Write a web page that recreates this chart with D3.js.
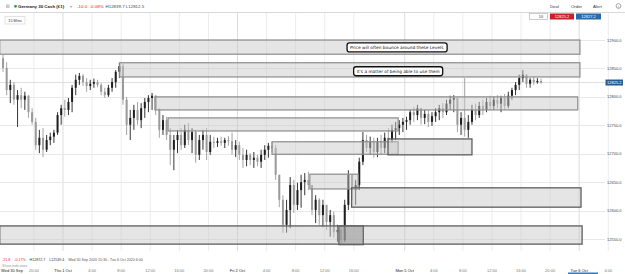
<!DOCTYPE html>
<html>
<head>
<meta charset="utf-8">
<script src="https://d3js.org/d3.v7.min.js"></script>
<style>
body { margin: 0; background: #fff; overflow: hidden; }
text { font-family: "Liberation Sans", Arial, sans-serif; }
</style>
</head>
<body>
<script>
var width = 625,
  height = 274;

// Germany 30 Cash, 30 min bars [open, high, low, close], Wed 30 Sep 15:30 -> Mon 5 Oct 18:30
var candles = [
  [12868,12874,12844,12851],[12851,12861,12803,12812],[12812,12830,12789,12821],[12821,12826,12786,12795],[12795,12812,12747,12803],
  [12803,12816,12780,12795],[12795,12809,12777,12802],[12802,12803,12763,12773],[12773,12780,12751,12756],[12756,12763,12707,12715],
  [12715,12742,12701,12728],[12728,12745,12694,12707],[12707,12733,12703,12724],[12724,12737,12715,12730],[12730,12742,12719,12737],
  [12737,12773,12733,12768],[12768,12786,12751,12780],[12780,12795,12765,12777],[12777,12798,12768,12791],[12791,12821,12773,12816],
  [12816,12839,12803,12830],[12830,12842,12821,12837],[12837,12840,12819,12826],[12826,12833,12809,12819],[12819,12830,12812,12823],
  [12823,12832,12816,12826],[12826,12830,12817,12821],[12821,12824,12803,12809],[12809,12816,12798,12803],[12803,12821,12800,12816],
  [12816,12833,12809,12826],[12826,12847,12816,12844],[12844,12860,12833,12854],[12854,12858,12786,12795],[12795,12800,12733,12751],
  [12751,12777,12724,12763],[12763,12786,12742,12777],[12777,12791,12751,12759],[12759,12789,12745,12780],[12780,12798,12763,12791],
  [12791,12803,12773,12798],[12798,12807,12777,12802],[12802,12803,12768,12777],[12777,12780,12728,12742],[12742,12768,12733,12759],
  [12759,12765,12724,12733],[12733,12745,12680,12707],[12707,12733,12671,12724],[12724,12742,12701,12733],[12733,12745,12707,12715],
  [12715,12751,12710,12742],[12742,12754,12715,12724],[12724,12745,12701,12738],[12738,12742,12684,12698],[12698,12733,12689,12724],
  [12724,12742,12707,12733],[12733,12745,12689,12703],[12703,12733,12698,12721],[12721,12730,12710,12719],[12719,12728,12712,12722],
  [12722,12730,12714,12719],[12719,12728,12710,12724],[12724,12731,12714,12722],[12722,12737,12698,12707],[12707,12724,12694,12715],
  [12715,12721,12689,12698],[12698,12710,12675,12689],[12689,12707,12678,12698],[12698,12701,12680,12689],[12689,12703,12675,12693],
  [12693,12698,12678,12686],[12686,12707,12675,12698],[12698,12715,12689,12707],[12707,12719,12693,12714],[12714,12721,12703,12710],
  [12710,12715,12654,12663],[12663,12663,12606,12619],[12619,12627,12561,12575],[12575,12619,12561,12601],[12601,12659,12569,12645],
  [12645,12654,12596,12610],[12610,12649,12601,12636],[12636,12663,12605,12650],[12650,12666,12627,12654],[12654,12668,12636,12645],
  [12645,12645,12592,12601],[12601,12627,12578,12619],[12619,12622,12575,12592],[12592,12619,12571,12610],[12610,12610,12566,12580],
  [12580,12601,12554,12592],[12592,12598,12552,12562],[12562,12575,12545,12566],[12566,12573,12540,12548],[12548,12619,12545,12610],
  [12610,12671,12601,12663],[12663,12663,12619,12636],[12636,12654,12610,12645],[12645,12693,12636,12686],[12686,12738,12680,12724],
  [12724,12733,12703,12710],[12710,12730,12698,12721],[12721,12728,12693,12703],[12703,12728,12694,12721],[12721,12733,12698,12710],
  [12710,12737,12701,12728],[12728,12745,12707,12724],[12724,12751,12719,12742],[12742,12756,12724,12745],[12745,12759,12733,12751],
  [12751,12763,12738,12756],[12756,12765,12742,12759],[12759,12777,12751,12773],[12773,12782,12756,12768],[12768,12786,12759,12780],
  [12780,12780,12751,12763],[12763,12777,12752,12770],[12770,12777,12747,12756],[12756,12773,12749,12766],[12766,12780,12756,12773],
  [12773,12786,12759,12780],[12780,12789,12763,12773],[12773,12795,12768,12788],[12788,12802,12777,12795],[12795,12803,12773,12798],
  [12798,12798,12738,12751],[12751,12773,12733,12763],[12763,12833,12730,12742],[12742,12768,12728,12756],[12756,12786,12751,12777],
  [12777,12788,12759,12768],[12768,12791,12763,12784],[12784,12795,12768,12777],[12777,12798,12773,12791],[12791,12802,12777,12784],
  [12784,12800,12777,12795],[12795,12803,12780,12788],[12788,12802,12773,12798],[12798,12805,12777,12784],[12784,12809,12780,12802],
  [12802,12816,12795,12812],[12812,12826,12803,12821],[12821,12839,12812,12833],[12833,12847,12826,12839],[12839,12840,12816,12823],
  [12823,12833,12816,12830],[12830,12835,12821,12826],[12826,12833,12823,12828],[12828,12832,12823,12825.2]
];
var firstBarHour = -8.5; // trading hours from Thu 1 Oct 0:00 (weekend removed)
var barHours = 0.5;

// support / resistance zones: [from hour, to hour, top price, bottom price]
var zones = [
  [-8.7, 71.1, 12900, 12875],
  [7.8, 71.1, 12860, 12835],
  [12.65, 70.8, 12800, 12777],
  [14.45, 46.1, 12763, 12740],
  [28.75, 46.1, 12721, 12699],
  [44.7, 56.25, 12726, 12698],
  [33.95, 40.6, 12664, 12638],
  [39.7, 71.25, 12640, 12606],
  [-8.7, 71.4, 12573, 12541],
  [37.95, 41.3, 12573, 12540]
];
var darkZones = [5, 7, 8];
var shadedZone = 9;

var priceTicks = [12550, 12600, 12650, 12700, 12750, 12800, 12850, 12900];
var timeTicks = [-4, 0, 4, 8, 12, 16, 20, 24, 28, 32, 36, 40, 47, 51, 55, 59, 63, 67, 71, 75];
var timeLabels = ["20:00", "Thu 1 Oct", "4:00", "8:00", "12:00", "16:00", "20:00", "Fri 2 Oct", "4:00", "8:00",
  "12:00", "16:00", "Mon 5 Oct", "4:00", "8:00", "12:00", "16:00", "20:00", "Tue 6 Oct", "4:00"];
var notes = ["Price will often bounce around these Levels", "It's a matter of being able to use them"];
var bid = 12825.2, ask = 12827.2;

var svg = d3
  .select("body")
  .append("svg")
  .attr("width", width)
  .attr("height", height)
  .style("display", "block")
  .style("background", "#fff");

var x = d3.scaleLinear().domain([0, 71]).range([63, 579.2]);
var y = d3.scaleLinear().domain([12550, 12900]).range([239, 40]);

var plotTop = 13, plotBottom = 251, plotRight = 605;

/*
* grid
*/
svg.append("g")
  .selectAll("line")
  .data(timeTicks)
  .enter()
  .append("line")
  .attr("x1", function (d) { return x(d); })
  .attr("x2", function (d) { return x(d); })
  .attr("y1", plotTop)
  .attr("y2", plotBottom)
  .attr("stroke", function (d, i) { return timeLabels[i].indexOf(":") < 0 ? "#dcdcdc" : "#ececec"; })
  .attr("stroke-width", 1);

svg.append("g")
  .selectAll("line")
  .data(priceTicks)
  .enter()
  .append("line")
  .attr("x1", 0)
  .attr("x2", plotRight)
  .attr("y1", function (d) { return Math.round(y(d)) + 0.5; })
  .attr("y2", function (d) { return Math.round(y(d)) + 0.5; })
  .attr("stroke", "#e8e8e8");

// last price line
svg.append("line")
  .attr("x1", 0).attr("x2", plotRight)
  .attr("y1", y(bid)).attr("y2", y(bid))
  .attr("stroke", "#d5d5d5").attr("stroke-width", 0.8);

/*
* candles
*/
function barX(i) {
  return x(firstBarHour + barHours * i + barHours / 2);
}
var bars = svg.append("g")
  .selectAll("g")
  .data(candles)
  .enter()
  .append("g");
bars.append("line")
  .attr("x1", function (d, i) { return barX(i); })
  .attr("x2", function (d, i) { return barX(i); })
  .attr("y1", function (d) { return y(d[1]); })
  .attr("y2", function (d) { return y(d[2]); })
  .attr("stroke", function (d) { return d[3] >= d[0] ? "#1e1e1e" : "#9a9a9a"; })
  .attr("stroke-width", 0.9);
bars.append("rect")
  .attr("x", function (d, i) { return barX(i) - 1; })
  .attr("width", 2)
  .attr("y", function (d) { return y(Math.max(d[0], d[3])); })
  .attr("height", function (d) { return Math.max(0.8, Math.abs(y(d[0]) - y(d[3]))); })
  .attr("fill", function (d) { return d[3] >= d[0] ? "#1e1e1e" : "#9a9a9a"; });

/*
* zones
*/
svg.append("g")
  .selectAll("rect")
  .data(zones)
  .enter()
  .append("rect")
  .attr("x", function (d) { return x(d[0]); })
  .attr("y", function (d) { return y(d[2]); })
  .attr("width", function (d) { return x(d[1]) - x(d[0]); })
  .attr("height", function (d) { return y(d[3]) - y(d[2]); })
  .attr("fill", function (d, i) { return i === shadedZone ? "rgba(140,140,140,0.5)" : "rgba(200,200,200,0.48)"; })
  .attr("stroke", function (d, i) { return darkZones.indexOf(i) >= 0 || i === shadedZone ? "#5e5e5e" : "#8c8c8c"; })
  .attr("stroke-width", function (d, i) { return darkZones.indexOf(i) >= 0 ? 1.3 : 1.2; });

/*
* notes
*/
var noteAnchors = [[45.9, 12887], [46.1, 12845]];
notes.forEach(function (t, i) {
  var g = svg.append("g");
  var txt = g.append("text")
    .attr("x", x(noteAnchors[i][0]))
    .attr("y", y(noteAnchors[i][1]))
    .attr("text-anchor", "middle")
    .attr("dominant-baseline", "central")
    .style("font-family", "'DejaVu Sans', sans-serif")
    .style("font-size", "4.3px")
    .style("fill", "#111")
    .text(t);
  var b = txt.node().getBBox();
  g.insert("rect", "text")
    .attr("x", b.x - 3).attr("y", b.y - 2)
    .attr("width", b.width + 6).attr("height", b.height + 4)
    .attr("rx", 2.5)
    .attr("fill", "#fff")
    .attr("stroke", "#111")
    .attr("stroke-width", 1.3);
});

/*
* price axis
*/
svg.append("g")
  .selectAll("text")
  .data(priceTicks)
  .enter()
  .append("text")
  .attr("x", 607)
  .attr("y", function (d) { return y(d); })
  .attr("dominant-baseline", "central")
  .style("font-size", "4px")
  .style("fill", "#444")
  .text(function (d) { return d3.format(".1f")(d); });

svg.append("rect")
  .attr("x", 605.5).attr("y", y(bid) - 3)
  .attr("width", 17.5).attr("height", 6)
  .attr("fill", "#2b5b8c");
svg.append("text")
  .attr("x", 607).attr("y", y(bid))
  .attr("dominant-baseline", "central")
  .style("font-size", "4px")
  .style("fill", "#fff")
  .text(d3.format(".1f")(bid));

/*
* time axis
*/
svg.append("g")
  .selectAll("text")
  .data(timeTicks)
  .enter()
  .append("text")
  .attr("x", function (d) { return x(d); })
  .attr("y", 272)
  .attr("text-anchor", "middle")
  .style("font-size", "4px")
  .style("fill", function (d, i) { return timeLabels[i].indexOf(":") < 0 ? "#222" : "#777"; })
  .text(function (d, i) { return timeLabels[i]; });
svg.append("text")
  .attr("x", 1).attr("y", 272)
  .style("font-size", "4px").style("fill", "#222")
  .text("Wed 30 Sep");
svg.append("rect")
  .attr("x", 568).attr("y", 272.5)
  .attr("width", 30).attr("height", 1.5)
  .attr("fill", "#3a78b8");

// range info under the chart
var info = svg.append("text").attr("x", 2).attr("y", 261).style("font-size", "3.6px");
info.append("tspan").style("fill", "#d22").text("-21.8");
info.append("tspan").attr("dx", 4).style("fill", "#d22").text("-0.17%");
info.append("tspan").attr("dx", 4).style("fill", "#333").text("H12872.7");
info.append("tspan").attr("dx", 4).style("fill", "#333").text("L12539.4");
info.append("tspan").attr("dx", 4).style("fill", "#555").text("Wed 30 Sep 2020 15:30 - Tue 6 Oct 2020 6:00");
svg.append("text").attr("x", 2).attr("y", 266.5)
  .style("font-size", "3.6px").style("fill", "#999")
  .text("Show indicators");

/*
* header
*/
svg.append("line")
  .attr("x1", 0).attr("x2", width)
  .attr("y1", 12.5).attr("y2", 12.5)
  .attr("stroke", "#d8d8d8");
svg.append("rect").attr("x", 6).attr("y", 4.5).attr("width", 3.5).attr("height", 3.5).attr("fill", "#c8c8c8");
svg.append("circle").attr("cx", 15.5).attr("cy", 6.3).attr("r", 1.4).attr("fill", "#2a9d3a");
var head = svg.append("text").attr("x", 18).attr("y", 7.8).style("font-size", "4.4px");
head.append("tspan").style("font-weight", "bold").style("fill", "#222").text("Germany 30 Cash (£1)");
head.append("tspan").attr("dx", 6).style("fill", "#999").text("▾");
head.append("tspan").attr("dx", 5).style("fill", "#d22").text("-10.0");
head.append("tspan").attr("dx", 2.5).style("fill", "#d22").text("-0.08%");
head.append("tspan").attr("dx", 2).style("fill", "#444").text("H12839.7 L12812.5");

svg.append("g")
  .selectAll("text")
  .data(["Deal", "Order", "Alert"])
  .enter()
  .append("text")
  .attr("x", function (d, i) { return [550, 571, 593][i]; })
  .attr("y", 7.5)
  .style("font-size", "4.3px")
  .style("fill", "#333")
  .text(function (d) { return d; });
svg.append("circle").attr("cx", 618.5).attr("cy", 6).attr("r", 2.4)
  .attr("fill", "none").attr("stroke", "#555").attr("stroke-width", 0.5);
svg.append("text").attr("x", 618.5).attr("y", 7.5).attr("text-anchor", "middle")
  .style("font-size", "3.8px").style("fill", "#555").text("i");

// timeframe button
svg.append("rect").attr("x", 5).attr("y", 16.5).attr("width", 20).attr("height", 7.5)
  .attr("fill", "#fff").attr("stroke", "#d0d0d0").attr("stroke-width", 0.6);
svg.append("text").attr("x", 15).attr("y", 21.6).attr("text-anchor", "middle")
  .style("font-size", "3.8px").style("fill", "#333").text("15 Mins");

// deal ticket
svg.append("rect").attr("x", 529.5).attr("y", 13.5).attr("width", 18).attr("height", 6)
  .attr("fill", "#fff").attr("stroke", "#aaa").attr("stroke-width", 0.6);
svg.append("text").attr("x", 543).attr("y", 17.8).attr("text-anchor", "end")
  .style("font-size", "3.8px").style("fill", "#333").text("10");
svg.append("rect").attr("x", 550).attr("y", 13.5).attr("width", 24).attr("height", 6).attr("fill", "#c8202a");
svg.append("text").attr("x", 562).attr("y", 17.9).attr("text-anchor", "middle")
  .style("font-size", "4px").style("fill", "#fff").text(d3.format(".1f")(bid));
svg.append("rect").attr("x", 576).attr("y", 13.5).attr("width", 25).attr("height", 6).attr("fill", "#2a6aa8");
svg.append("text").attr("x", 588.5).attr("y", 17.9).attr("text-anchor", "middle")
  .style("font-size", "4px").style("fill", "#fff").text(d3.format(".1f")(ask));
</script>
</body>
</html>
